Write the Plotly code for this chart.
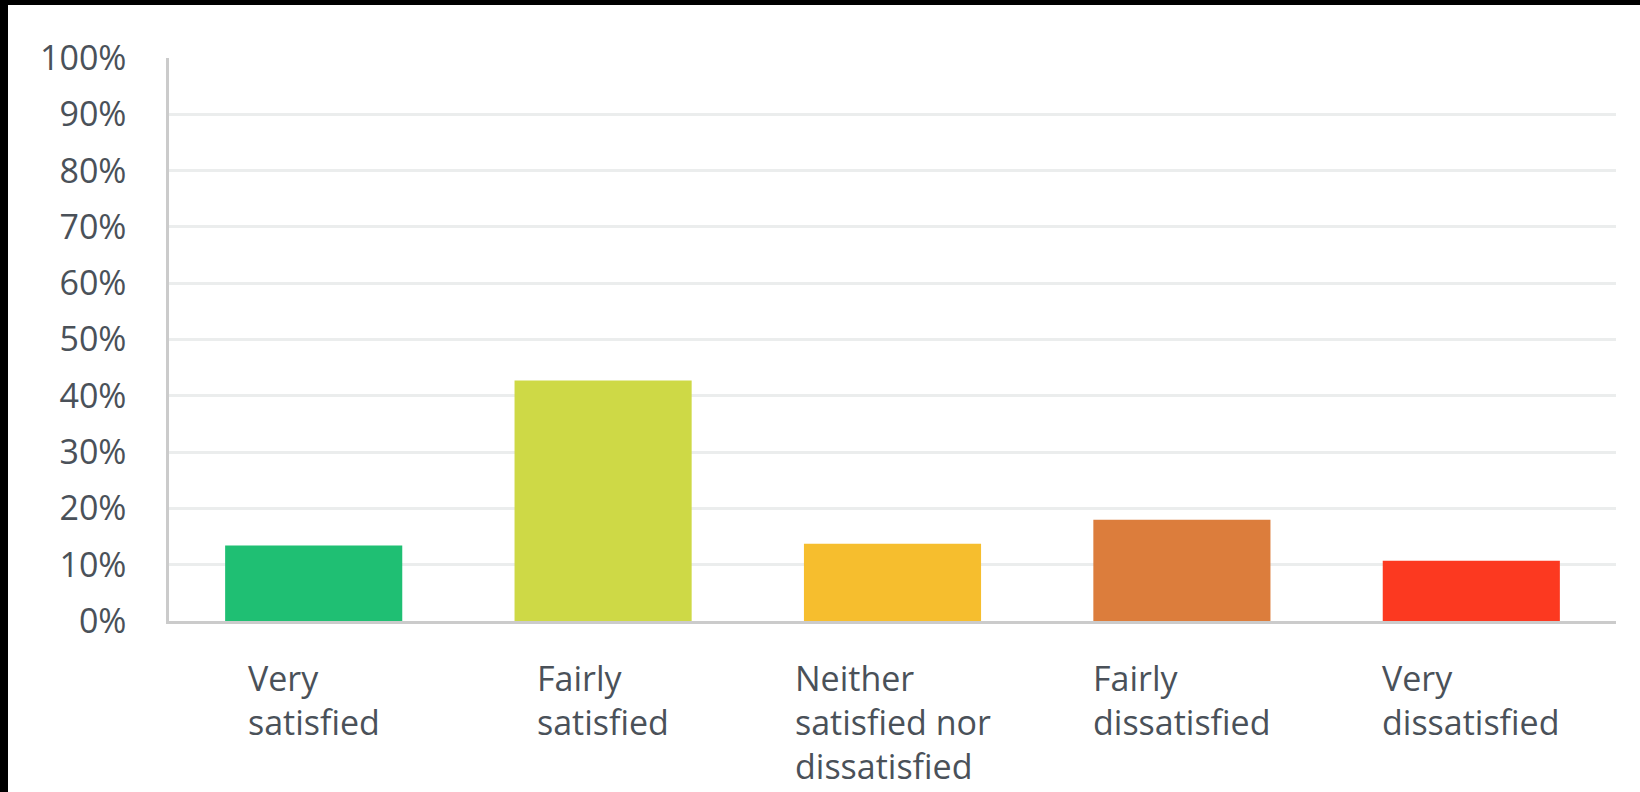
import plotly.graph_objects as go

categories = ["Very satisfied", "Fairly satisfied", "Neither satisfied nor dissatisfied",
              "Fairly dissatisfied", "Very dissatisfied"]
label_text = ["Very<br>satisfied", "Fairly<br>satisfied", "Neither<br>satisfied nor<br>dissatisfied",
              "Fairly<br>dissatisfied", "Very<br>dissatisfied"]
values = [13.4, 42.7, 13.7, 18.0, 10.7]
colors = ["#1FBF73", "#CED946", "#F6BE2E", "#DC7D3C", "#FC3920"]
tick_vals = [0, 10, 20, 30, 40, 50, 60, 70, 80, 90, 100]
tick_text = [f"{v}%" for v in tick_vals]

FONT = "Open Sans"
TXT = "#4A5159"

fig = go.Figure()
fig.add_trace(go.Bar(x=categories, y=values, marker=dict(color=colors, line=dict(width=0)),
                     width=0.612, hoverinfo="skip"))

annotations = []
for c, t in zip(categories, label_text):
    annotations.append(dict(x=c, y=0, xref="x", yref="y", text=t, showarrow=False,
                            xanchor="center", yanchor="top", align="left", yshift=-32,
                            font=dict(family=FONT, size=34, color=TXT)))

fig.update_layout(
    width=1640, height=792,
    margin=dict(l=161, r=32, t=53, b=176, pad=0),
    paper_bgcolor="white", plot_bgcolor="white",
    showlegend=False,
    bargap=0.388,
    annotations=annotations,
    xaxis=dict(showticklabels=False, showline=True, linecolor="#CBCBCB", linewidth=2.5,
               showgrid=False, zeroline=False, ticks="", fixedrange=True),
    yaxis=dict(range=[0, 100], tickvals=tick_vals, ticktext=tick_text,
               showline=True, linecolor="#CBCBCB", linewidth=2.5,
               showgrid=True, gridcolor="#EBEDED", gridwidth=2.5, zeroline=False,
               ticks="", ticklabelstandoff=33,
               tickfont=dict(family=FONT, size=34, color=TXT)),
)

page_css = ("document.documentElement.style.background='black';"
            "document.body.style.background='black';"
            "document.body.style.margin='5px 0 0 8px';"
            "document.documentElement.style.overflow='hidden';"
            "document.body.style.overflow='hidden';")

fig.write_html("out.html", post_script=page_css)
